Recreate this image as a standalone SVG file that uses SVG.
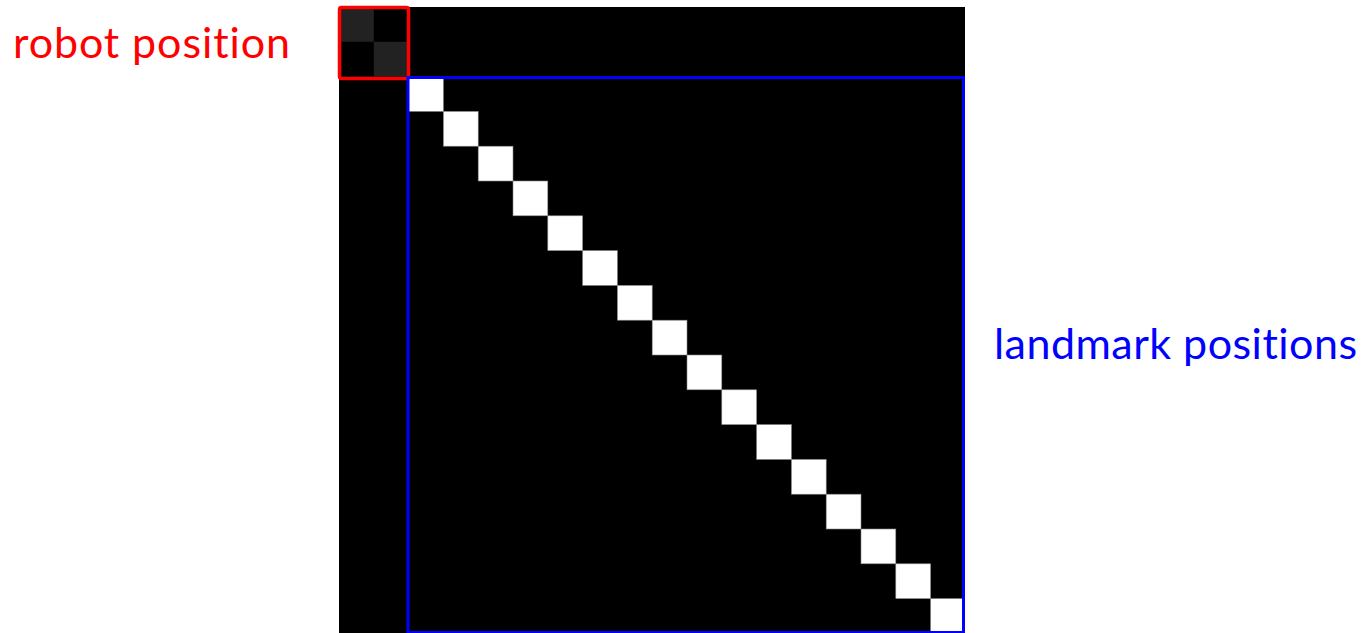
<svg xmlns="http://www.w3.org/2000/svg" width="1368" height="633" viewBox="0 0 1368 633">
<style>
.lbl{font-family:Lato,"Liberation Sans",sans-serif;font-size:43px;font-variant-ligatures:none;font-feature-settings:"liga" 0}
.w{fill:#fff;stroke:#888;stroke-width:0.6}
</style>
<rect width="1368" height="633" fill="#fff"/>
<g id="matrix">
<rect x="339" y="7" width="626" height="626" fill="#000"/>
<rect x="339" y="7" width="34.8" height="34.8" fill="#222"/>
<rect x="373.8" y="41.8" width="34.8" height="34.8" fill="#222"/>
<rect class="w" x="408.6" y="76.6" width="34.8" height="34.8"/>
<rect class="w" x="443.4" y="111.4" width="34.8" height="34.8"/>
<rect class="w" x="478.2" y="146.2" width="34.8" height="34.8"/>
<rect class="w" x="513" y="181" width="34.8" height="34.8"/>
<rect class="w" x="547.8" y="215.8" width="34.8" height="34.8"/>
<rect class="w" x="582.6" y="250.6" width="34.8" height="34.8"/>
<rect class="w" x="617.4" y="285.4" width="34.8" height="34.8"/>
<rect class="w" x="652.2" y="320.2" width="34.8" height="34.8"/>
<rect class="w" x="687" y="355" width="34.8" height="34.8"/>
<rect class="w" x="721.8" y="389.8" width="34.8" height="34.8"/>
<rect class="w" x="756.6" y="424.6" width="34.8" height="34.8"/>
<rect class="w" x="791.4" y="459.4" width="34.8" height="34.8"/>
<rect class="w" x="826.2" y="494.2" width="34.8" height="34.8"/>
<rect class="w" x="861" y="529" width="34.8" height="34.8"/>
<rect class="w" x="895.8" y="563.8" width="34.8" height="34.8"/>
<rect class="w" x="930.6" y="598.6" width="33.4" height="34.4"/>
</g>
<g id="robot">
<rect x="339.5" y="7.5" width="69" height="71" rx="2" fill="none" stroke="#f00" stroke-width="3.5"/>
<text class="lbl" x="13" y="58" fill="#f00" textLength="277" lengthAdjust="spacing">robot position</text>
</g>
<g id="landmarks">
<rect x="408" y="77.5" width="555.5" height="555" fill="none" stroke="#00f" stroke-width="3"/>
<text class="lbl" x="994" y="359" fill="#00f" textLength="363" lengthAdjust="spacing">landmark positions</text>
</g>
</svg>
